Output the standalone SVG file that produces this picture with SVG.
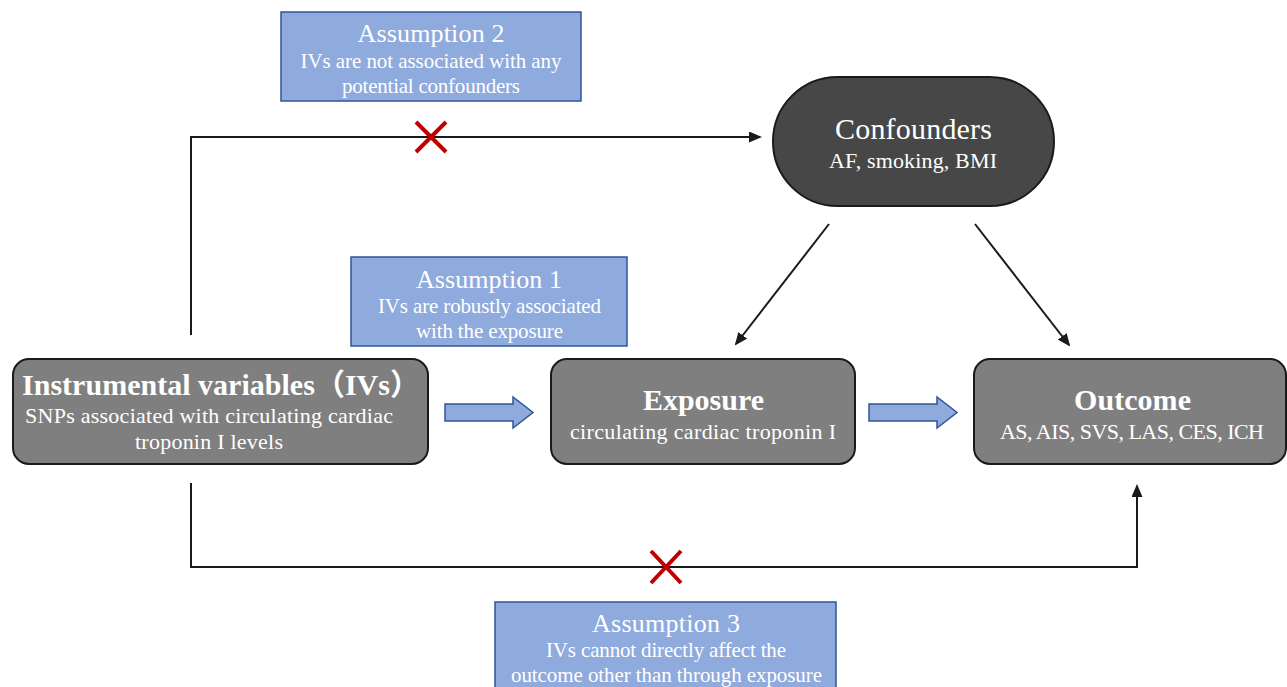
<svg xmlns="http://www.w3.org/2000/svg" width="1287" height="687" viewBox="0 0 1287 687">
<style>
.node{fill:#7f7f7f;stroke:#1a1a1a;stroke-width:2}
.conf{fill:#474747;stroke:#1a1a1a;stroke-width:2}
.asm{fill:#8faadc;stroke:#2f5597;stroke-width:1.5}
.t{font-family:"Liberation Serif","Noto Sans CJK SC",serif;fill:#ffffff;text-anchor:middle}
.b{font-weight:bold;font-size:30px}
.h{font-size:30px}
.s{font-size:22px}
.at{font-size:26px}
.ab{font-size:21px}
.ln{fill:none;stroke:#1a1a1a;stroke-width:2}
.x{stroke:#c00000;stroke-width:4;fill:none}
.blk{fill:#8faadc;stroke:#2f5597;stroke-width:1.5}
</style>
<defs>
<marker id="ah" markerWidth="13" markerHeight="11" refX="11" refY="5.5" orient="auto" markerUnits="userSpaceOnUse">
<path d="M0,0 L13,5.5 L0,11 Z" fill="#1a1a1a"/>
</marker>
</defs>
<g id="connectors">
<path class="ln" d="M191,335 V137 H760" marker-end="url(#ah)"/>
<path class="ln" d="M191,483 V567 H1137 V486" marker-end="url(#ah)"/>
<path class="ln" d="M829,224 L736,344" marker-end="url(#ah)"/>
<path class="ln" d="M975,224 L1069,345" marker-end="url(#ah)"/>
<path class="x" d="M416,122 L446,152 M446,122 L416,152"/>
<path class="x" d="M651,551 L681,583 M681,551 L651,583"/>
<path class="blk" d="M445,404 H513 V397 L533,412.5 L513,428 V421 H445 Z"/>
<path class="blk" d="M869,404 H937 V397 L957,412.5 L937,428 V421 H869 Z"/>
</g>
<g id="assumption2">
<rect class="asm" x="281" y="12" width="300" height="89"/>
<text class="t at" x="431" y="42" textLength="147">Assumption 2</text>
<text class="t ab" x="431" y="68" textLength="261">IVs are not associated with any</text>
<text class="t ab" x="431" y="93" textLength="178">potential confounders</text>
</g>
<g id="assumption1">
<rect class="asm" x="351" y="257" width="276" height="89"/>
<text class="t at" x="489" y="288" textLength="146">Assumption 1</text>
<text class="t ab" x="489.5" y="313" textLength="223">IVs are robustly associated</text>
<text class="t ab" x="489.5" y="338" textLength="147">with the exposure</text>
</g>
<g id="assumption3">
<rect class="asm" x="495" y="602" width="341" height="95"/>
<text class="t at" x="666" y="632" textLength="148">Assumption 3</text>
<text class="t ab" x="666" y="657" textLength="240">IVs cannot directly affect the</text>
<text class="t ab" x="666.5" y="682" textLength="311">outcome other than through exposure</text>
</g>
<g id="confounders">
<rect class="conf" x="773" y="77" width="281" height="129" rx="64.5"/>
<text class="t h" x="913.5" y="139" textLength="157">Confounders</text>
<text class="t s" x="913" y="168" textLength="168">AF, smoking, BMI</text>
</g>
<g id="ivs">
<rect class="node" x="13" y="359" width="415" height="105" rx="16"/>
<text class="t b" x="221" y="395" textLength="398">Instrumental variables（IVs）</text>
<text class="t s" x="209" y="423" textLength="368">SNPs associated with circulating cardiac</text>
<text class="t s" x="209" y="449" textLength="148">troponin I levels</text>
</g>
<g id="exposure">
<rect class="node" x="551" y="359" width="304" height="105" rx="16"/>
<text class="t b" x="703.5" y="410" textLength="121">Exposure</text>
<text class="t s" x="703" y="439" textLength="266">circulating cardiac troponin I</text>
</g>
<g id="outcome">
<rect class="node" x="974" y="359" width="312" height="105" rx="16"/>
<text class="t b" x="1132.5" y="410" textLength="117">Outcome</text>
<text class="t s" x="1132" y="439" textLength="264">AS, AIS, SVS, LAS, CES, ICH</text>
</g>
</svg>
